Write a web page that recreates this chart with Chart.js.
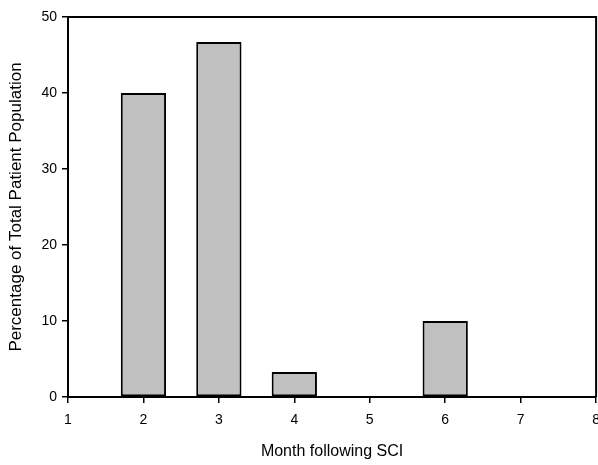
<!DOCTYPE html>
<html>
<head>
<meta charset="utf-8">
<script src="https://cdn.jsdelivr.net/npm/chart.js@4"></script>
<style>
  html, body { margin: 0; padding: 0; background: #fff; overflow: hidden; }
  #wrap { width: 609px; height: 465px; }
</style>
</head>
<body>
<div id="wrap"><canvas id="myChart" width="609" height="465"></canvas></div>
<script>
// months after SCI and share of patients (%)
const months = [2, 3, 4, 5, 6, 7];
const percent = [40, 46.7, 3.3, 0, 10, 0];

const xTitle = "Month following SCI";
const yTitle = "Percentage of Total Patient Population";

const font = "'Liberation Sans', Arial, sans-serif";

// top and right lines of the frame
const frame = {
  id: "frame",
  afterDatasetsDraw(chart) {
    const a = chart.chartArea;
    const c = chart.ctx;
    c.save();
    c.strokeStyle = "#000";
    c.lineWidth = 2;
    c.beginPath();
    c.moveTo(a.left, a.top);
    c.lineTo(a.right, a.top);
    c.lineTo(a.right, a.bottom);
    c.stroke();
    c.restore();
  }
};

const ctx = document.getElementById("myChart").getContext("2d");
const myChart = new Chart(ctx, {
  type: "bar",
  data: {
    datasets: [{
      data: months.map((m, i) => ({ x: m, y: percent[i] })),
      backgroundColor: "#c0c0c0",
      borderColor: "#000",
      borderWidth: 2,
      borderSkipped: false,
      categoryPercentage: 1,
      barPercentage: 0.6
    }]
  },
  options: {
    responsive: false,
    animation: false,
    layout: { padding: { top: 17, left: 2, right: 0, bottom: 0 } },
    plugins: { legend: { display: false }, tooltip: { enabled: false } },
    scales: {
      x: {
        type: "linear",
        min: 1,
        max: 8,
        offset: false,
        ticks: { stepSize: 1, color: "#000", font: { family: font, size: 14 }, padding: 9, maxRotation: 0 },
        grid: { offset: false, drawOnChartArea: false, drawTicks: true, tickLength: 6, color: "#000", lineWidth: 1.5 },
        border: { display: true, color: "#000", width: 2 },
        title: { display: true, text: xTitle, color: "#000", font: { family: font, size: 16 }, padding: { top: 4 } }
      },
      y: {
        min: 0,
        max: 50,
        ticks: { stepSize: 10, color: "#000", font: { family: font, size: 14 }, padding: 5 },
        grid: { drawOnChartArea: false, drawTicks: true, tickLength: 6, color: "#000", lineWidth: 1.5 },
        border: { display: true, color: "#000", width: 2 },
        title: { display: true, text: yTitle, color: "#000", font: { family: font, size: 17 }, padding: { bottom: 10 } }
      }
    }
  },
  plugins: [frame]
});
</script>
</body>
</html>
